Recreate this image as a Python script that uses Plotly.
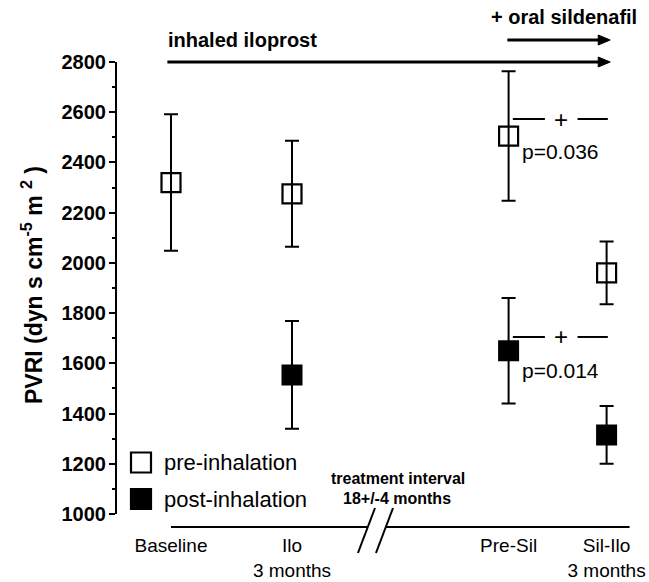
import plotly.graph_objects as go

# ---- data ----
categories = ["Baseline", "Ilo<br>3 months", "Pre-Sil", "Sil-Ilo<br>3 months"]
series_names = ["pre-inhalation", "post-inhalation"]
pre_mean = [2320, 2275, 2505, 1960]
pre_sd = [272, 211, 258, 125]
post_mean = [None, 1554, 1650, 1315]
post_sd = [None, 215, 210, 115]
y_ticks = [1000, 1200, 1400, 1600, 1800, 2000, 2200, 2400, 2600, 2800]
p_values = ["p=0.036", "p=0.014"]
sig_levels = [2573, 1705]
p_levels = [2442, 1570]

# ---- layout constants ----
x_pos = [1.0, 2.0, 3.79, 4.6]
FONT = "Liberation Sans, Arial, sans-serif"
PX_X = 121.0    # pixels per x unit
PLOT_L, PLOT_T, PLOT_W, PLOT_H = 117, 62, 523, 452


def px(xp):
    return (xp - PLOT_L) / PLOT_W


def py(yp):
    return (PLOT_T + PLOT_H - yp) / PLOT_H


fig = go.Figure()

fig.add_trace(go.Scatter(
    x=x_pos, y=pre_mean, mode="markers", name=series_names[0], showlegend=False,
    marker=dict(symbol="square-open", size=19, color="black", line=dict(width=2.2, color="black")),
    error_y=dict(type="data", array=pre_sd, visible=True, color="black", thickness=2, width=7),
))
fig.add_trace(go.Scatter(
    x=x_pos, y=post_mean, mode="markers", name=series_names[1], showlegend=False,
    marker=dict(symbol="square", size=19, color="black", line=dict(width=2, color="black")),
    error_y=dict(type="data", array=post_sd, visible=True, color="black", thickness=2, width=7),
))

shapes = []
annotations = []

# legend (drawn manually inside the plot area)
for i, (name, filled) in enumerate(zip(series_names, [False, True])):
    yc = 462.5 + 36.5 * i
    shapes.append(dict(type="rect", xref="paper", yref="paper",
                       x0=px(131), x1=px(151), y0=py(yc + 10), y1=py(yc - 10),
                       fillcolor="black" if filled else "white",
                       line=dict(color="black", width=2.2)))
    annotations.append(dict(xref="paper", yref="paper", x=px(162), y=py(yc), text=name,
                            showarrow=False, xanchor="left", yanchor="middle",
                            font=dict(family=FONT, size=22, color="black")))

# bottom time line with break
yl = py(527)
shapes.append(dict(type="line", xref="x", yref="paper", x0=1.0, x1=2.628, y0=yl, y1=yl,
                   line=dict(color="black", width=2)))
shapes.append(dict(type="line", xref="x", yref="paper", x0=2.777, x1=4.79, y0=yl, y1=yl,
                   line=dict(color="black", width=2)))
for xs in (0.0, 0.149):
    shapes.append(dict(type="line", xref="x", yref="paper", x0=2.686 + xs, y0=py(508),
                       x1=2.545 + xs, y1=py(553), line=dict(color="black", width=2)))

annotations.append(dict(xref="x", yref="paper", x=2.875, y=py(478), text="<b>treatment interval</b>",
                        showarrow=False, font=dict(family=FONT, size=16, color="black"),
                        xanchor="center", yanchor="middle"))
annotations.append(dict(xref="x", yref="paper", x=2.87, y=py(498), text="<b>18+/-4 months</b>",
                        showarrow=False, font=dict(family=FONT, size=16, color="black"),
                        xanchor="center", yanchor="middle"))

# significance brackets
a, b = x_pos[2], x_pos[3]
mid = (a + b) / 2
for lvl, plev, ptxt in zip(sig_levels, p_levels, p_values):
    shapes.append(dict(type="line", xref="x", yref="y", x0=a + 0.035, x1=mid - 0.105, y0=lvl, y1=lvl,
                       line=dict(color="black", width=2)))
    shapes.append(dict(type="line", xref="x", yref="y", x0=mid + 0.165, x1=b + 0.01, y0=lvl, y1=lvl,
                       line=dict(color="black", width=2)))
    annotations.append(dict(xref="x", yref="y", x=mid + 0.025, y=lvl, text="+", showarrow=False,
                            font=dict(family=FONT, size=24, color="black"),
                            xanchor="center", yanchor="middle"))
    annotations.append(dict(xref="x", yref="y", x=mid + 0.025, y=plev, text=ptxt, showarrow=False,
                            font=dict(family=FONT, size=21, color="black"),
                            xanchor="center", yanchor="middle"))


# top arrows (shapes: shaft + filled head)
def arrow(x_tail, x_head, y_paper):
    head_len = 12 / PX_X
    half_h = 5 / PLOT_H
    shapes.append(dict(type="line", xref="x", yref="paper", x0=x_tail, x1=x_head - head_len * 0.6,
                       y0=y_paper, y1=y_paper, line=dict(color="black", width=3)))
    path = (f"M {x_head} {y_paper} L {x_head - head_len} {y_paper + half_h} "
            f"L {x_head - head_len} {y_paper - half_h} Z")
    shapes.append(dict(type="path", xref="x", yref="paper", path=path,
                       fillcolor="black", line=dict(color="black", width=1)))


arrow(0.97, 4.63, py(62))
arrow(3.78, 4.63, py(40))

annotations.append(dict(xref="x", yref="paper", x=0.96, y=py(40), text="<b>inhaled iloprost</b>",
                        showarrow=False, xanchor="left", yanchor="middle",
                        font=dict(family=FONT, size=20, color="black")))
annotations.append(dict(xref="x", yref="paper", x=3.63, y=py(17), text="<b>+ oral sildenafil</b>",
                        showarrow=False, xanchor="left", yanchor="middle",
                        font=dict(family=FONT, size=20, color="black")))

# y-axis title
annotations.append(dict(xref="paper", yref="paper", x=px(32), y=py(285), textangle=-90,
                        text="<b>PVRI (dyn s cm<sup>-5</sup> m <sup>2</sup> )</b>",
                        showarrow=False, xanchor="center", yanchor="middle",
                        font=dict(family=FONT, size=23, color="black")))

fig.update_layout(
    width=649, height=582,
    margin=dict(l=PLOT_L, r=649 - PLOT_L - PLOT_W, t=PLOT_T, b=582 - PLOT_T - PLOT_H, autoexpand=False),
    paper_bgcolor="white", plot_bgcolor="white",
    font=dict(family=FONT, color="black"),
    showlegend=False,
    shapes=shapes,
    annotations=annotations,
    xaxis=dict(range=[1 - 54 / PX_X, 1 + (PLOT_L + PLOT_W - 171) / PX_X],
               showgrid=False, zeroline=False, showline=False, automargin=False,
               tickmode="array", tickvals=x_pos, ticktext=categories, ticks="",
               tickfont=dict(family=FONT, size=19, color="black"), ticklabelstandoff=18),
    yaxis=dict(range=[1000, 2800], showgrid=False, zeroline=False, showline=True, automargin=False,
               linecolor="black", linewidth=2, ticks="outside", ticklen=6, tickwidth=2,
               tickcolor="black", tickmode="array", tickvals=y_ticks, ticklabelstandoff=-1,
               tickfont=dict(family=FONT, size=20, color="black", weight="bold"),
               minor=dict(dtick=100, ticks="outside", ticklen=3, tickwidth=1.5, tickcolor="black")),
)

fig.write_html("out.html", config={"displayModeBar": False},
               post_script="document.body.style.margin='0';")
